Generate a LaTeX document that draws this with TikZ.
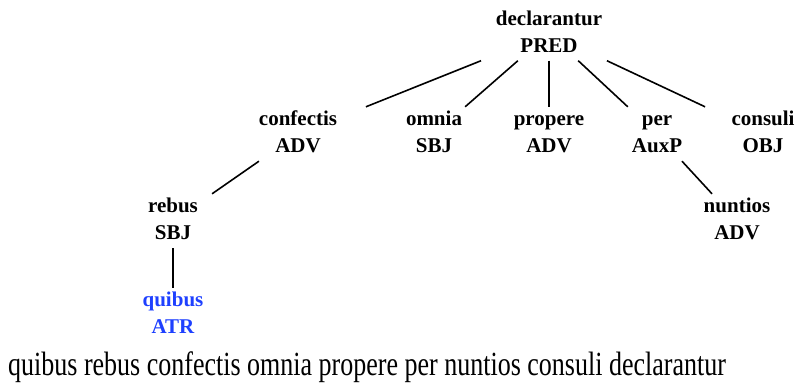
\documentclass[tikz,border=0pt]{standalone}
\usepackage{fontspec}
\setmainfont{Liberation Serif}
\usepackage{graphicx}
\usepackage{tikz}
\usetikzlibrary{positioning}
\definecolor{treeblue}{HTML}{1E40FF}
\newcommand{\wtag}[2]{\strut#1\\\strut#2}

\begin{document}
\begin{tikzpicture}[
  x=1pt, y=-1pt,
  word/.style={minimum width=140pt, inner sep=0pt,
               font=\fontsize{21}{27}\selectfont\bfseries, align=center},
  focus/.style={word, text=treeblue},
  dep/.style={line width=1.6pt}
]
  \useasboundingbox (0,0) rectangle (797,384);

  % root
  \node[word] (decl) at (549,33.5) {\wtag{declarantur}{PRED}};

  % first level
  \node[word] (conf) at (298,134) {\wtag{confectis}{ADV}};
  \node[word] (omn) at (434,134) {\wtag{omnia}{SBJ}};
  \node[word] (prop) at (549,134) {\wtag{propere}{ADV}};
  \node[word] (per) at (657,134) {\wtag{per}{AuxP}};
  \node[word] (cons) at (763,134) {\wtag{consuli}{OBJ}};

  % second level
  \node[word] (reb) at (173,221) {\wtag{rebus}{SBJ}};
  \node[word] (nunt) at (737,221) {\wtag{nuntios}{ADV}};

  % third level
  \node[focus] (quib) at (173,315) {\wtag{quibus}{ATR}};

  \draw[dep] (decl) -- (conf);
  \draw[dep] (decl) -- (omn);
  \draw[dep] (decl) -- (prop);
  \draw[dep] (decl) -- (per);
  \draw[dep] (decl) -- (cons);
  \draw[dep] (conf) -- (reb);
  \draw[dep] (per) -- (nunt);
  \draw[dep] (reb) -- (quib);

  % sentence
  \node[anchor=base west, inner sep=0pt, font=\fontsize{26}{30}\selectfont]
    (sent) at (8,375) {\scalebox{1}[1.3]{quibus rebus confectis omnia propere per nuntios consuli declarantur}};
\end{tikzpicture}
\end{document}
